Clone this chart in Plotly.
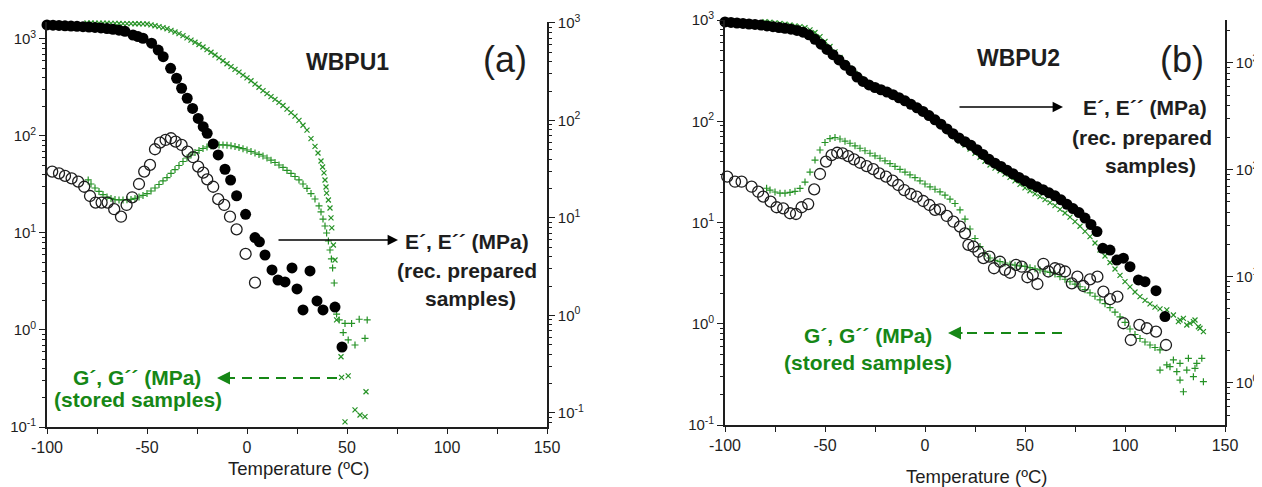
import plotly.graph_objects as go

# the page puts the plot 8px in from the top-left corner, so the figure is
# sized to fill the rest of the 1262x487 window
OFF = 8
W, H = 1262 - OFF, 487 - OFF
FONT = "Liberation Sans, Arial, sans-serif"
INK = "#1e1e1e"
GREEN = "#259225"
GREEN_TXT = "#168716"

# ---------------- WBPU1 (a) ----------------
# E' (rec. prepared), right axis
wbpu1_ep_t = [-100, -97, -94, -91, -88, -85, -82, -79, -76, -73, -70, -67, -64, -61,
              -57, -54.5, -52, -47.7, -44.4, -41.9, -38.2, -35.2, -32.7, -29.9, -27.2,
              -24.4, -21.9, -19.9, -16.9, -14.4, -11, -8.2, -5.2, -0.7, 4, 6.2, 9,
              12.5, 15.5, 19, 22.5, 25, 28, 31.5, 35, 38, 44, 47.5]
wbpu1_ep = [954, 949, 943, 936, 929, 923, 916, 908, 899, 889, 876, 862, 844, 822,
            753, 725, 697, 620, 528, 451, 343, 271, 214, 169, 133,
            105, 86.3, 73.9, 57.4, 44.3, 31.6, 24.5, 16.9, 10.9, 6.3, 5.7, 4.17,
            2.93, 2.31, 2.21, 3.07, 1.87, 1.14, 2.86, 1.41, 1.14, 1.22, 0.475]

# E'' (rec. prepared), right axis
wbpu1_epp_t = [-97.4, -94, -91, -87.7, -84.4, -81.4, -78.5, -75.7, -72.7, -69.7, -66.4,
               -63, -60.2, -57.4, -54, -51.4, -48.5, -46, -43.5, -40.7, -38, -35.7,
               -32.7, -29.7, -26.9, -24.4, -21.9, -19.9, -16.9, -14.4, -11.4, -8.5,
               -5.2, -0.7, 4]
wbpu1_epp = [29.9, 28.7, 27.0, 25.5, 23.6, 20.9, 16.8, 14.4, 14.4, 14.4, 12.3,
             10.3, 13.6, 16.3, 22.3, 29.9, 35.0, 50.7, 59.2, 63.1, 65.7, 60.6,
             56.1, 47.9, 42.0, 33.6, 29.2, 24.9, 20.9, 15.6, 13.6, 10.3,
             7.65, 4.28, 2.17]

# G' (stored), left axis
wbpu1_gp_t = [-80, -78, -76, -74, -72, -70, -68, -66, -64, -62, -60, -58, -56, -54,
              -52, -50, -48, -46, -44, -42, -40, -38, -36, -34, -32, -30, -28, -26,
              -24, -22, -20, -18, -16, -14, -12, -10, -8, -6, -4, -2, 0, 2, 4, 6, 8,
              10, 12, 14, 16, 18, 20, 22, 24, 26, 28, 30, 32, 34,
              35.5, 37, 37.8, 38.5, 39, 39.5, 39.8, 40.7, 41.5, 42, 42.4, 43.2, 44,
              44.8, 47, 47.3, 50.6, 54, 56.5, 59, 59.5, 49]
wbpu1_gp = [1460, 1460, 1458, 1456, 1455, 1452, 1450, 1447, 1445, 1442, 1440, 1438,
            1436, 1434, 1432, 1428, 1398, 1368, 1339, 1311, 1274, 1227, 1181, 1137,
            1084, 1026, 974, 925, 878, 827, 776, 729, 684, 639, 596, 556, 519, 486,
            455, 424, 397, 371, 343, 318, 294, 273, 255, 238, 222, 206, 189, 174,
            160, 145, 129, 115, 93.8, 78.2,
            66.8, 55.2, 47.9, 41.6, 35.2, 29.8, 25.8, 21.9, 18.1, 14.3, 11.3, 7.52, 5.27,
            1.27, 0.53, 0.325, 0.336, 0.150, 0.133, 0.128, 0.231, 0.113]

# G'' (stored), left axis
wbpu1_gpp_t = [-79.4, -78, -76, -74, -72, -70, -68, -66, -64, -62, -60, -58, -56, -54,
               -52, -50, -48, -46, -44, -42, -40, -38, -36, -34, -32, -30, -28, -26,
               -24, -22, -20, -18, -16, -14, -12, -10, -8, -6, -4, -2, 0, 2, 4, 6, 8,
               10, 12, 14, 16, 18, 20, 22, 24, 26, 28, 30, 32, 34,
               36, 37, 38, 39, 39.8, 40.7, 41.5, 42.2, 42.8, 43.6,
               44.8, 46.1, 49, 52.3, 56.1, 60.1, 48.1, 50.6, 54, 59]
wbpu1_gpp = [35.2, 32.0, 29.1, 26.8, 24.9, 23.5, 22.7, 22.1, 21.9, 21.9, 21.95, 22.2,
             22.7, 23.5, 24.4, 25.5, 27.1, 29.1, 31.6, 34.4, 37.3, 41.1, 45.1, 49.6,
             54.6, 59.3, 63.7, 67.6, 70.9, 74.3, 77.0, 78.9, 80.4, 80.8, 80.8, 80.4,
             79.3, 77.8, 75.9, 74.0, 71.7, 69.2, 66.8, 64.5, 62.2, 59.3, 56.3, 53.3,
             50.2, 47.4, 44.1, 41.1, 38.2, 35.2, 32.0, 28.8, 25.5, 22.4,
             19.0, 16.5, 13.9, 11.8, 10.0, 8.27, 6.68, 5.40, 4.36, 3.05,
             1.46, 1.27, 1.17, 1.17, 1.29, 1.27, 0.94, 0.79, 0.70, 0.82]

# ---------------- WBPU2 (b) ----------------
wbpu2_ep_t = [-100, -97, -94, -91, -88, -85, -82, -79, -76, -73, -70, -67, -64, -61,
              -58, -55, -52, -49, -46, -43, -40, -37, -34, -31, -28, -25, -22, -19,
              -16, -13, -10, -7, -4, -1, 2, 5, 8, 11, 14, 17, 20, 23, 26, 29, 32, 35,
              38, 41, 44, 47, 50, 53, 56, 59, 62, 65, 68, 71, 74, 77, 80, 83, 86,
              88.9, 92.5, 95.9, 99.2, 102.5, 106.7, 110, 115.5, 120]
wbpu2_ep = [2424, 2398, 2371, 2346, 2320, 2296, 2266, 2227, 2189, 2151, 2115, 2074,
            2017, 1944, 1838, 1668, 1500, 1339, 1196, 1067, 954, 847, 739, 671, 622,
            589, 561, 534, 504, 472, 442, 410, 380, 351, 321, 293, 267, 241, 217,
            198, 183, 169, 154, 139, 125, 115, 107, 98.9, 91.5, 84.6, 78.6, 73.7,
            69.1, 64.8, 60.7, 56.8, 52.1, 47.3, 43.2, 39.6, 35.2, 30.6, 26.3,
            18.3, 17.6, 14.2, 14.8, 12.3, 9.24, 8.9, 7.33, 4.19]

wbpu2_epp_t = [-98.9, -95, -91.7, -86.7, -83.4, -80.9, -77.2, -74.2, -70.9, -67.5, -64.5,
               -61.7, -58.4, -55.4, -52.5, -49.5, -46.7, -43.9, -41.2, -38.4, -35.5,
               -32.5, -29.2, -25.9, -22.9, -19.5, -16.2, -13.4, -10.4, -7.2, -4.2, -0.9,
               2.2, 5, 7.5, 10.9, 14.2, 17.5, 20, 21.7, 24.2, 26.7, 29.2, 32.2, 34.5,
               37.5, 40, 42.5, 45.5, 48.4, 51.2, 53.9, 56.2, 59.2, 61.7, 65, 67.2, 70,
               73.4, 76.2, 79.2, 82.5, 86.2, 89.2, 92.5, 96.2, 99.2, 102.9, 107.2,
               110.9, 115.5, 120.5]
wbpu2_epp = [85.9, 77.1, 77.1, 69.2, 62.1, 55.8, 50.1, 44.4, 43.4, 39.0, 38.4,
             44.4, 47.6, 65.4, 91.0, 119, 137, 144, 142, 134, 125,
             116, 108, 101, 92.4, 85.9, 78.8, 71.8, 64.4, 59.1, 55.8, 50.8,
             46.6, 41.9, 42.5, 36.8, 32.5, 29.2, 25.3, 19.7, 19.0, 17.0, 14.8, 15.3, 11.9,
             13.7, 11.5, 10.8, 12.8, 12.3, 9.8, 10.3, 8.47, 13.1, 11.1, 11.9, 11.6, 11.1,
             8.59, 9.93, 8.11, 9.37, 9.93, 7.18, 6.10, 6.45, 3.63, 2.53, 3.50,
             3.26, 3.03, 2.27]

wbpu2_gp_t = [-80, -77.5, -75, -72.5, -70, -67.5, -65, -62.5, -60, -57.5, -55, -52.5,
              -50, -47.5, -45, -42.5, -40, -37.5, -35, -32.5, -30, -27.5, -25, -22.5,
              -20, -17.5, -15, -12.5, -10, -7.5, -5, -2.5, 0, 2.5, 5, 7.5, 10, 12.5,
              15, 17.5, 20, 22.5, 25, 27.5, 30, 32.5, 35, 37.5, 40, 42.5, 45, 47.5,
              50, 52.5, 55, 57.5, 60, 62.5, 65, 67.5, 70, 72.5, 75, 77.5, 80, 82.5,
              85, 87.5, 90, 92.5, 95, 97.5, 100, 102.5, 105, 107.5, 110, 112.5, 115,
              117.5, 120.9, 124.2, 126.7, 127.5, 129.2, 130.9, 132.5, 134.2, 135,
              136.7, 137.5, 139.2]
wbpu2_gp = [962, 951, 938, 923, 909, 893, 876, 859, 838, 800, 752, 684,
            613, 547, 485, 426, 376, 334, 296, 266, 245, 228, 214, 203,
            194, 185, 176, 167, 158, 148, 138, 129, 119, 111, 103, 95.4, 86.8, 78.3,
            70.2, 63.8, 58.3, 53.2, 48.3, 44.1, 40.3, 37.0, 34.5, 32.3, 30.1, 27.9,
            25.8, 23.8, 22.0, 20.6, 19.2, 18.0, 16.8, 15.7, 14.7, 13.5, 12.4, 11.3,
            10.2, 9.19, 8.18, 7.24, 6.27, 5.35, 4.67, 4.03, 3.47, 3.00, 2.61, 2.31,
            2.06, 1.85, 1.70, 1.57, 1.46, 1.40, 1.37, 1.22, 1.05, 1.09, 1.13, 0.972,
            1.01, 1.05, 1.09, 0.935, 0.902, 0.835]

wbpu2_gpp_t = [-79.2, -77.5, -75, -72.5, -70, -67.5, -65, -62.5, -60, -57.5, -55, -52.5,
               -50, -47.5, -45, -42.5, -40, -37.5, -35, -32.5, -30, -27.5, -25, -22.5,
               -20, -17.5, -15, -12.5, -10, -7.5, -5, -2.5, 0, 2.5, 5, 7.5, 10, 12.5,
               15, 17.5, 20, 22.5, 25, 27.5, 30, 32.5, 35, 37.5, 40, 42.5, 45, 47.5,
               50, 52.5, 55, 57.5, 60, 62.5, 65, 67.5, 70, 72.5, 75, 77.5, 80, 82.5,
               85, 87.5, 90, 92.5, 95, 97.5, 100, 102.5, 105, 107.5, 110, 112.5, 115,
               117.5, 120.9, 124.2, 127.5, 131.7, 135.9, 138.4, 117.5, 122.5, 125.9,
               130.9, 135, 127.5, 134.2, 139.2, 129.2]
wbpu2_gpp = [21.8, 20.9, 20.0, 19.5, 19.5, 19.8, 20.3, 21.7, 25.1, 31.5, 41.4, 52.0,
             61.7, 67.5, 69.1, 66.8, 63.5, 60.6, 57.2, 54.1, 51.1, 48.3, 45.6, 43.1,
             40.7, 38.2, 35.8, 33.5, 31.5, 29.6, 27.7, 25.8, 24.0, 22.5, 21.3, 20.1,
             18.6, 17.0, 15.4, 13.3, 10.8, 8.63, 6.95, 5.79, 4.94, 4.46, 4.23, 4.10,
             3.98, 3.87, 3.79, 3.73, 3.68, 3.58, 3.49, 3.40, 3.30, 3.21, 3.10, 2.92,
             2.75, 2.60, 2.46, 2.32, 2.17, 2.02, 1.87, 1.72, 1.58, 1.44, 1.30, 1.17,
             1.03, 0.887, 0.783, 0.715, 0.660, 0.617, 0.583, 0.551, 0.392, 0.439,
             0.407, 0.456, 0.407, 0.456, 0.349, 0.377, 0.336, 0.349, 0.363, 0.278,
             0.30, 0.268, 0.213]

x_tickvals = [-100, -75, -50, -25, 0, 25, 50, 75, 100, 125, 150]
x_ticktext = ["-100", "", "-50", "", "0", "", "50", "", "100", "", "150"]


def P(x, y):
    """window pixel position -> paper coords"""
    return (x - OFF) / W, 1 - (y - OFF) / H


STYLE = {
    "filled": dict(symbol="circle", size=11, color="black"),
    "open": dict(symbol="circle-open", size=11, color=INK, line=dict(width=1.3, color=INK)),
    "x": dict(symbol="x-thin", size=5, color=GREEN, line=dict(width=1.2, color=GREEN)),
    "plus": dict(symbol="cross-thin", size=5, color=GREEN, line=dict(width=1.2, color=GREEN)),
}

fig = go.Figure()


def add(t, v, xa, ya, kind, name):
    fig.add_trace(go.Scatter(x=t, y=v, xaxis=xa, yaxis=ya, mode="markers",
                             marker=STYLE[kind], name=name, cliponaxis=False))


add(wbpu1_ep_t, wbpu1_ep, "x", "y2", "filled", "E'")
add(wbpu1_epp_t, wbpu1_epp, "x", "y2", "open", "E''")
add(wbpu1_gp_t, wbpu1_gp, "x", "y", "x", "G'")
add(wbpu1_gpp_t, wbpu1_gpp, "x", "y", "plus", "G''")

add(wbpu2_ep_t, wbpu2_ep, "x2", "y4", "filled", "E'")
add(wbpu2_epp_t, wbpu2_epp, "x2", "y4", "open", "E''")
add(wbpu2_gp_t, wbpu2_gp, "x2", "y3", "x", "G'")
add(wbpu2_gpp_t, wbpu2_gpp, "x2", "y3", "plus", "G''")


def log_axis(lo, hi, rng, **kw):
    major = [10.0 ** k for k in range(lo, hi + 1)]
    minor = [m * 10.0 ** k for k in range(lo - 1, hi + 1) for m in range(2, 10)]
    return dict(type="log", range=rng, tickmode="array", tickvals=major,
                ticktext=["10<sup>%d</sup>" % k for k in range(lo, hi + 1)],
                showline=True, linecolor=INK, linewidth=1.6, ticks="outside",
                ticklen=6, tickwidth=1.3, tickcolor=INK, showgrid=False,
                zeroline=False, automargin=False,
                tickfont=dict(family=FONT, size=15, color=INK),
                minor=dict(tickmode="array", tickvals=minor, ticks="outside",
                           ticklen=3, tickwidth=1, tickcolor=INK, showgrid=False),
                **kw)


def x_axis(domain, anchor, **kw):
    return dict(domain=domain, anchor=anchor, range=[-100, 150], tickmode="array",
                tickvals=x_tickvals, ticktext=x_ticktext, showline=True,
                linecolor=INK, linewidth=1.6, ticks="outside", ticklen=5,
                tickwidth=1.3, tickcolor=INK, showgrid=False, zeroline=False,
                automargin=False,
                tickfont=dict(family=FONT, size=16, color=INK), **kw)


def top_axis(over, anchor):
    return dict(overlaying=over, anchor=anchor, side="top", range=[-100, 150],
                tickmode="array", tickvals=x_tickvals, showticklabels=False,
                showline=True, linecolor=INK, linewidth=1.6, ticks="inside",
                ticklen=5, tickwidth=1.3, tickcolor=INK, showgrid=False,
                zeroline=False, automargin=False)


def dom(a, b, horizontal):
    if horizontal:
        return [(a - OFF) / W, (b - OFF) / W]
    return [1 - (b - OFF) / H, 1 - (a - OFF) / H]


dom_x1 = dom(47, 547, True)
dom_y1 = dom(22, 427, False)
dom_x2 = dom(725, 1225, True)
dom_y2 = dom(20, 425, False)

fig.update_layout(
    width=W, height=H,
    margin=dict(l=0, r=0, t=0, b=0, autoexpand=False),
    paper_bgcolor="white", plot_bgcolor="white",
    showlegend=False,
    font=dict(family=FONT, size=15, color=INK),
    xaxis=x_axis(dom_x1, "y"),
    xaxis2=x_axis(dom_x2, "y3"),
    xaxis3=top_axis("x", "y"),
    xaxis4=top_axis("x2", "y3"),
    yaxis=log_axis(-1, 3, [-1, 3.175], domain=dom_y1, anchor="x"),
    yaxis2=log_axis(-1, 3, [-1.144, 3.01], overlaying="y", side="right", anchor="x"),
    yaxis3=log_axis(-1, 3, [-1, 3], domain=dom_y2, anchor="x2"),
    yaxis4=log_axis(0, 3, [-0.394, 3.403], overlaying="y3", side="right", anchor="x2"),
)

notes = []


def text(x, y, s, size=21, bold=True, color=INK):
    px, py = P(x, y)
    notes.append(dict(x=px, y=py, xref="paper", yref="paper", text=("<b>%s</b>" % s) if bold else s,
                      showarrow=False, xanchor="center", yanchor="middle",
                      font=dict(family=FONT, size=size, color=color)))


def arrow(tail_x, tip_x, y, color, width):
    px, py = P(tip_x, y)
    notes.append(dict(x=px, y=py, xref="paper", yref="paper", text="",
                      showarrow=True, ax=tail_x - tip_x, ay=0, arrowhead=2,
                      arrowsize=1.3, arrowwidth=width, arrowcolor=color, standoff=0))


# panel (a)
text(347, 62, "WBPU1", size=23)
text(505, 59, "(a)", size=36, bold=False)
arrow(277, 398, 240, "black", 1.6)
text(467, 241, "E´, E´´ (MPa)")
text(467, 270, "(rec. prepared")
text(470, 298, "samples)")
text(137, 377, "G´, G´´ (MPa)", color=GREEN_TXT)
text(138, 399, "(stored samples)", color=GREEN_TXT)
arrow(233, 217, 378, GREEN_TXT, 2)
text(298, 468, "Temperature (ºC)", size=18.5, bold=False)

# panel (b)
text(1018, 58, "WBPU2", size=23)
text(1182, 59, "(b)", size=36, bold=False)
arrow(958, 1063, 107, "black", 1.6)
text(1145, 107, "E´, E´´ (MPa)")
text(1142, 137, "(rec. prepared")
text(1150, 165, "samples)")
text(868, 335, "G´, G´´ (MPa)", color=GREEN_TXT)
text(868, 362, "(stored samples)", color=GREEN_TXT)
arrow(964, 948, 333, GREEN_TXT, 2)
text(976, 476, "Temperature (ºC)", size=18.5, bold=False)

fig.update_layout(annotations=notes)

# dashed shafts of the green arrows
for x0, x1, y in [(337, 228, 378), (1062, 959, 333)]:
    a0, b0 = P(x0, y)
    a1, b1 = P(x1, y)
    fig.add_shape(type="line", xref="paper", yref="paper", x0=a0, y0=b0, x1=a1, y1=b1,
                  line=dict(color=GREEN_TXT, width=2, dash="10px,7px"))

fig.write_html("out.html")
